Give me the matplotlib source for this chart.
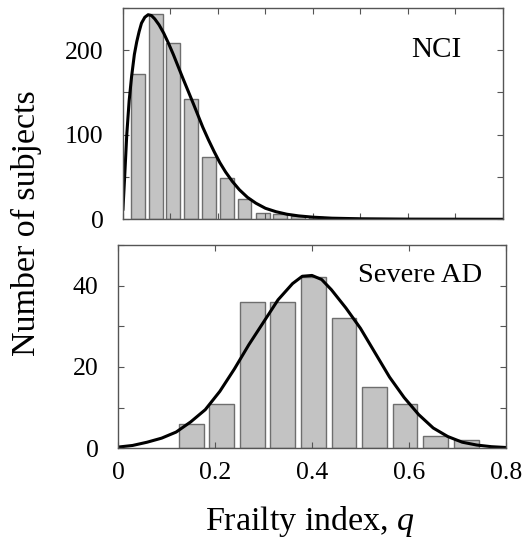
import numpy as np
import matplotlib
matplotlib.use("Agg")
import matplotlib.pyplot as plt

plt.rcParams['font.family'] = ['Liberation Serif', 'DejaVu Serif']
plt.rcParams['mathtext.fontset'] = 'custom'
plt.rcParams['mathtext.it'] = 'Liberation Serif:italic'
plt.rcParams['mathtext.rm'] = 'Liberation Serif'

# NCI histogram (bin centres and counts)
nci_centers = [0.031, 0.069, 0.106, 0.144, 0.181, 0.219, 0.256, 0.294, 0.331, 0.369, 0.406, 0.444, 0.481]
nci_counts = [172, 243, 208, 142, 74, 49, 24, 7, 6, 4, 3, 2, 1]

# NCI fitted curve
nci_curve_q = [0.0, 0.004, 0.008, 0.013, 0.018, 0.024, 0.029, 0.034, 0.039, 0.046, 0.053,
               0.060, 0.067, 0.076, 0.086, 0.096, 0.106, 0.116, 0.126, 0.137, 0.148, 0.158,
               0.168, 0.180, 0.192, 0.204, 0.216, 0.230, 0.245, 0.262, 0.280, 0.300, 0.322,
               0.345, 0.370, 0.400, 0.440, 0.500, 0.600, 0.700, 0.800]
nci_curve_n = [12, 55, 100, 140, 168, 195, 210, 222, 232, 239, 242,
               241, 237, 230, 220, 208, 195, 181, 167, 152, 137, 123,
               109, 94, 80, 67, 56, 45, 35, 26, 19, 13, 9,
               6, 4, 2.5, 1.3, 0.6, 0.2, 0.1, 0.0]

# Severe AD histogram
ad_centers = [0.151, 0.214, 0.277, 0.340, 0.403, 0.466, 0.529, 0.592, 0.655, 0.718]
ad_counts = [6, 11, 36, 36, 42, 32, 15, 11, 3, 2]

# Severe AD fitted curve
ad_curve_q = [0.0, 0.03, 0.06, 0.09, 0.12, 0.15, 0.18, 0.21, 0.24, 0.27, 0.30, 0.33, 0.36,
              0.38, 0.40, 0.42, 0.44, 0.47, 0.50, 0.53, 0.56, 0.59, 0.62, 0.65, 0.68,
              0.71, 0.74, 0.77, 0.80]
ad_curve_n = [0.3, 0.7, 1.5, 2.5, 4.0, 6.5, 9.5, 14.0, 19.5, 25.5, 31.0, 36.5, 40.5,
              42.3, 42.5, 41.5, 39.0, 34.5, 29.5, 23.5, 17.5, 12.5, 8.3, 5.0, 2.9,
              1.5, 0.8, 0.4, 0.2]

fig = plt.figure(figsize=(5.30, 5.38), dpi=100)
ax1 = fig.add_axes([0.232, 0.5924, 0.717, 0.3928])
ax2 = fig.add_axes([0.2226, 0.1667, 0.732, 0.378])

bar_face = '#c3c3c3'
bar_edge = '#6e6e6e'
spine_col = '#555555'

ax1.bar(nci_centers, nci_counts, width=0.029, color=bar_face, edgecolor=bar_edge, linewidth=1.0)
ax1.plot(nci_curve_q, nci_curve_n, color='black', lw=2.2)
ax1.set_xlim(0, 0.8)
ax1.set_ylim(0, 250)
ax1.set_xticks(np.arange(0, 0.81, 0.1))
ax1.set_xticklabels([])
ax1.set_yticks([0, 50, 100, 150, 200, 250])
ax1.set_yticklabels(['0', '', '100', '', '200', ''])
ax1.text(0.66, 200, 'NCI', fontsize=21, ha='center', va='center')

ax2.bar(ad_centers, ad_counts, width=0.051, color=bar_face, edgecolor=bar_edge, linewidth=1.0)
ax2.plot(ad_curve_q, ad_curve_n, color='black', lw=2.2)
ax2.set_xlim(0, 0.8)
ax2.set_ylim(0, 50)
ax2.set_xticks([0, 0.2, 0.4, 0.6, 0.8])
ax2.set_xticklabels(['0', '0.2', '0.4', '0.6', '0.8'])
ax2.set_yticks([0, 10, 20, 30, 40, 50])
ax2.set_yticklabels(['0', '', '20', '', '40', ''])
ax2.text(0.623, 42.5, 'Severe AD', fontsize=20.5, ha='center', va='center')

for ax in (ax1, ax2):
    for s in ax.spines.values():
        s.set_color(spine_col)
        s.set_linewidth(1.0)
    ax.tick_params(direction='in', top=True, right=True, length=4, width=0.8,
                   color=spine_col, labelsize=18.5, pad=10)
    ax.tick_params(axis='y', pad=14)

fig.text(0.05, 0.585, 'Number of subjects', rotation=90, fontsize=24.5,
         ha='center', va='center')
fig.text(0.585, 0.03, r'Frailty index, $q$', fontsize=24.5, ha='center', va='center')

fig.savefig('out.png', dpi=100)
